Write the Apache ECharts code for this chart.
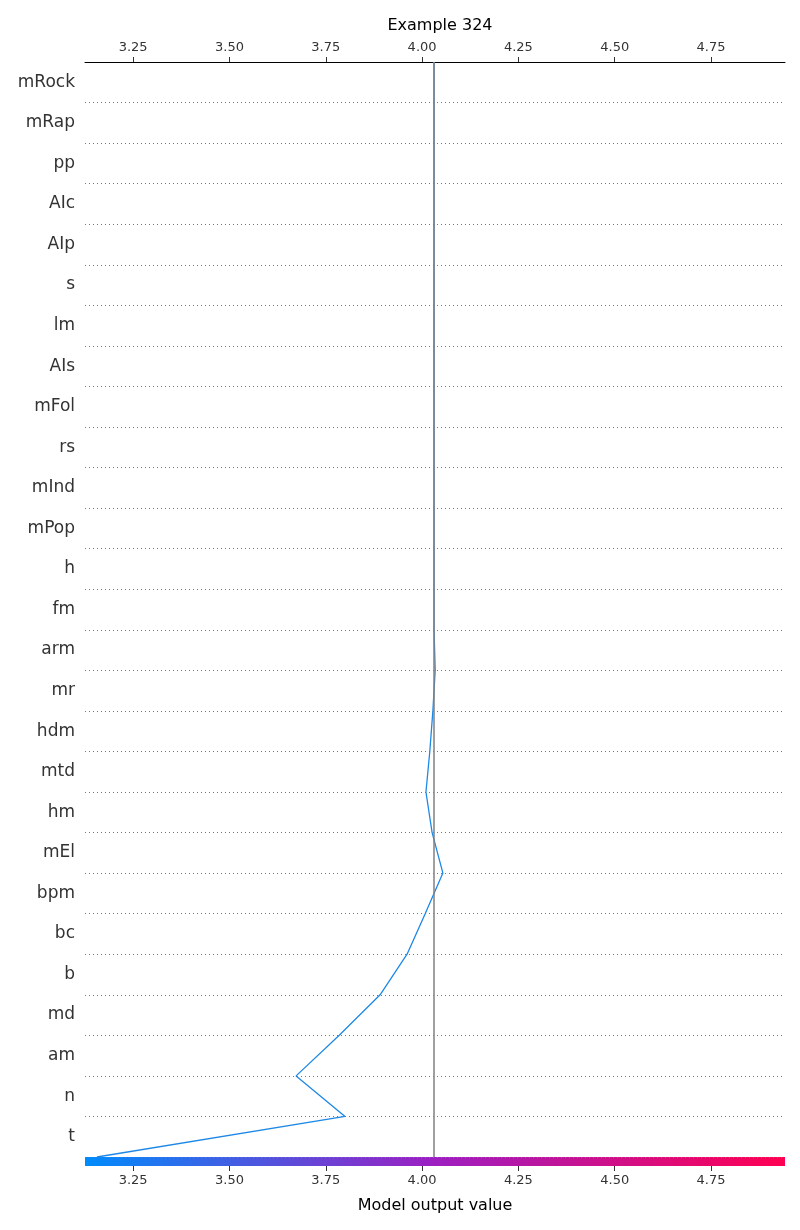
<!DOCTYPE html>
<html>
<head>
<meta charset="utf-8">
<script src="https://cdn.jsdelivr.net/npm/echarts@6/dist/echarts.min.js"></script>
<style>html,body{margin:0;padding:0;background:#fff}#c{width:800px;height:1230px}</style>
</head>
<body>
<div id="c"></div>
<script>
// features top to bottom
var features = ['mRock','mRap','pp','AIc','AIp','s','lm','AIs','mFol','rs','mInd','mPop','h','fm',
  'arm','mr','hdm','mtd','hm','mEl','bpm','bc','b','md','am','n','t'];
// cumulative output at each row boundary, index 0 = top, 27 = bottom (base)
var cumValues = [4.031,4.031,4.031,4.031,4.031,4.031,4.031,4.031,4.031,4.031,4.031,4.031,4.031,4.031,4.031,
  4.034,4.028,4.020,4.010,4.026,4.054,4.008,3.961,3.891,3.785,3.673,3.800,3.156];
var expectedValue = 4.031;
var xMin = 3.125, xMax = 4.942;
var xTicks = [3.25,3.5,3.75,4.0,4.25,4.5,4.75];

var chart = echarts.init(document.getElementById('c'));
var linePts = cumValues.map(function (v, i) { return [v, i]; });
var fmt = function (v) { return (+v).toFixed(2); };

function xAxisDef(pos, extra) {
  var a = { type: 'value', position: pos, min: xMin, max: xMax,
    axisTick: { show: true, length: 5, customValues: xTicks, lineStyle: { color: '#333' } },
    axisLabel: { formatter: fmt, customValues: xTicks, fontSize: 13, color: '#333', fontFamily: 'DejaVu Sans' },
    splitLine: { show: false } };
  for (var k in extra) a[k] = extra[k];
  return a;
}

var option = {
  animation: false,
  title: { text: 'Example 324', left: 435, top: 13, textAlign: 'center',
    textStyle: { fontSize: 16, fontWeight: 'normal', color: '#000', fontFamily: 'DejaVu Sans' } },
  grid: { left: 85, right: 15, top: 62, bottom: 73 },
  xAxis: [
    xAxisDef('top', { axisLine: { show: true, lineStyle: { color: '#000' } } }),
    xAxisDef('bottom', { offset: 9, axisLine: { show: false },
      name: 'Model output value', nameLocation: 'middle', nameGap: 32,
      nameTextStyle: { fontSize: 16, color: '#000', fontFamily: 'DejaVu Sans' } })
  ],
  yAxis: [
    { type: 'value', min: 0, max: 27, interval: 1, inverse: true,
      axisLine: { show: false }, axisTick: { show: false }, axisLabel: { show: false },
      splitLine: { show: true, lineStyle: { color: '#777', type: [1, 3], width: 1 } } },
    { type: 'category', data: features, inverse: true, position: 'left',
      axisLine: { show: false }, axisTick: { show: false },
      axisLabel: { fontSize: 17, color: '#333', margin: 10, fontFamily: 'DejaVu Sans' },
      splitLine: { show: false } }
  ],
  series: [
    { type: 'line', xAxisIndex: 0, yAxisIndex: 0, data: linePts, symbol: 'none',
      lineStyle: { color: '#1e88e5', width: 1.3 },
      markLine: { silent: true, symbol: 'none', label: { show: false },
        lineStyle: { color: '#808080', type: 'solid', width: 1.5 },
        data: [{ xAxis: expectedValue }] },
      z: 3 }
  ],
  graphic: [
    { type: 'rect', z: -1, shape: { x: 85, y: 1157, width: 700, height: 9 },
      style: { fill: new echarts.graphic.LinearGradient(0, 0, 1, 0, [
        { offset: 0, color: '#008bfb' }, { offset: 0.5, color: '#9d1fc1' }, { offset: 1, color: '#ff0051' }]) } }
  ]
};
chart.setOption(option);
</script>
</body>
</html>
